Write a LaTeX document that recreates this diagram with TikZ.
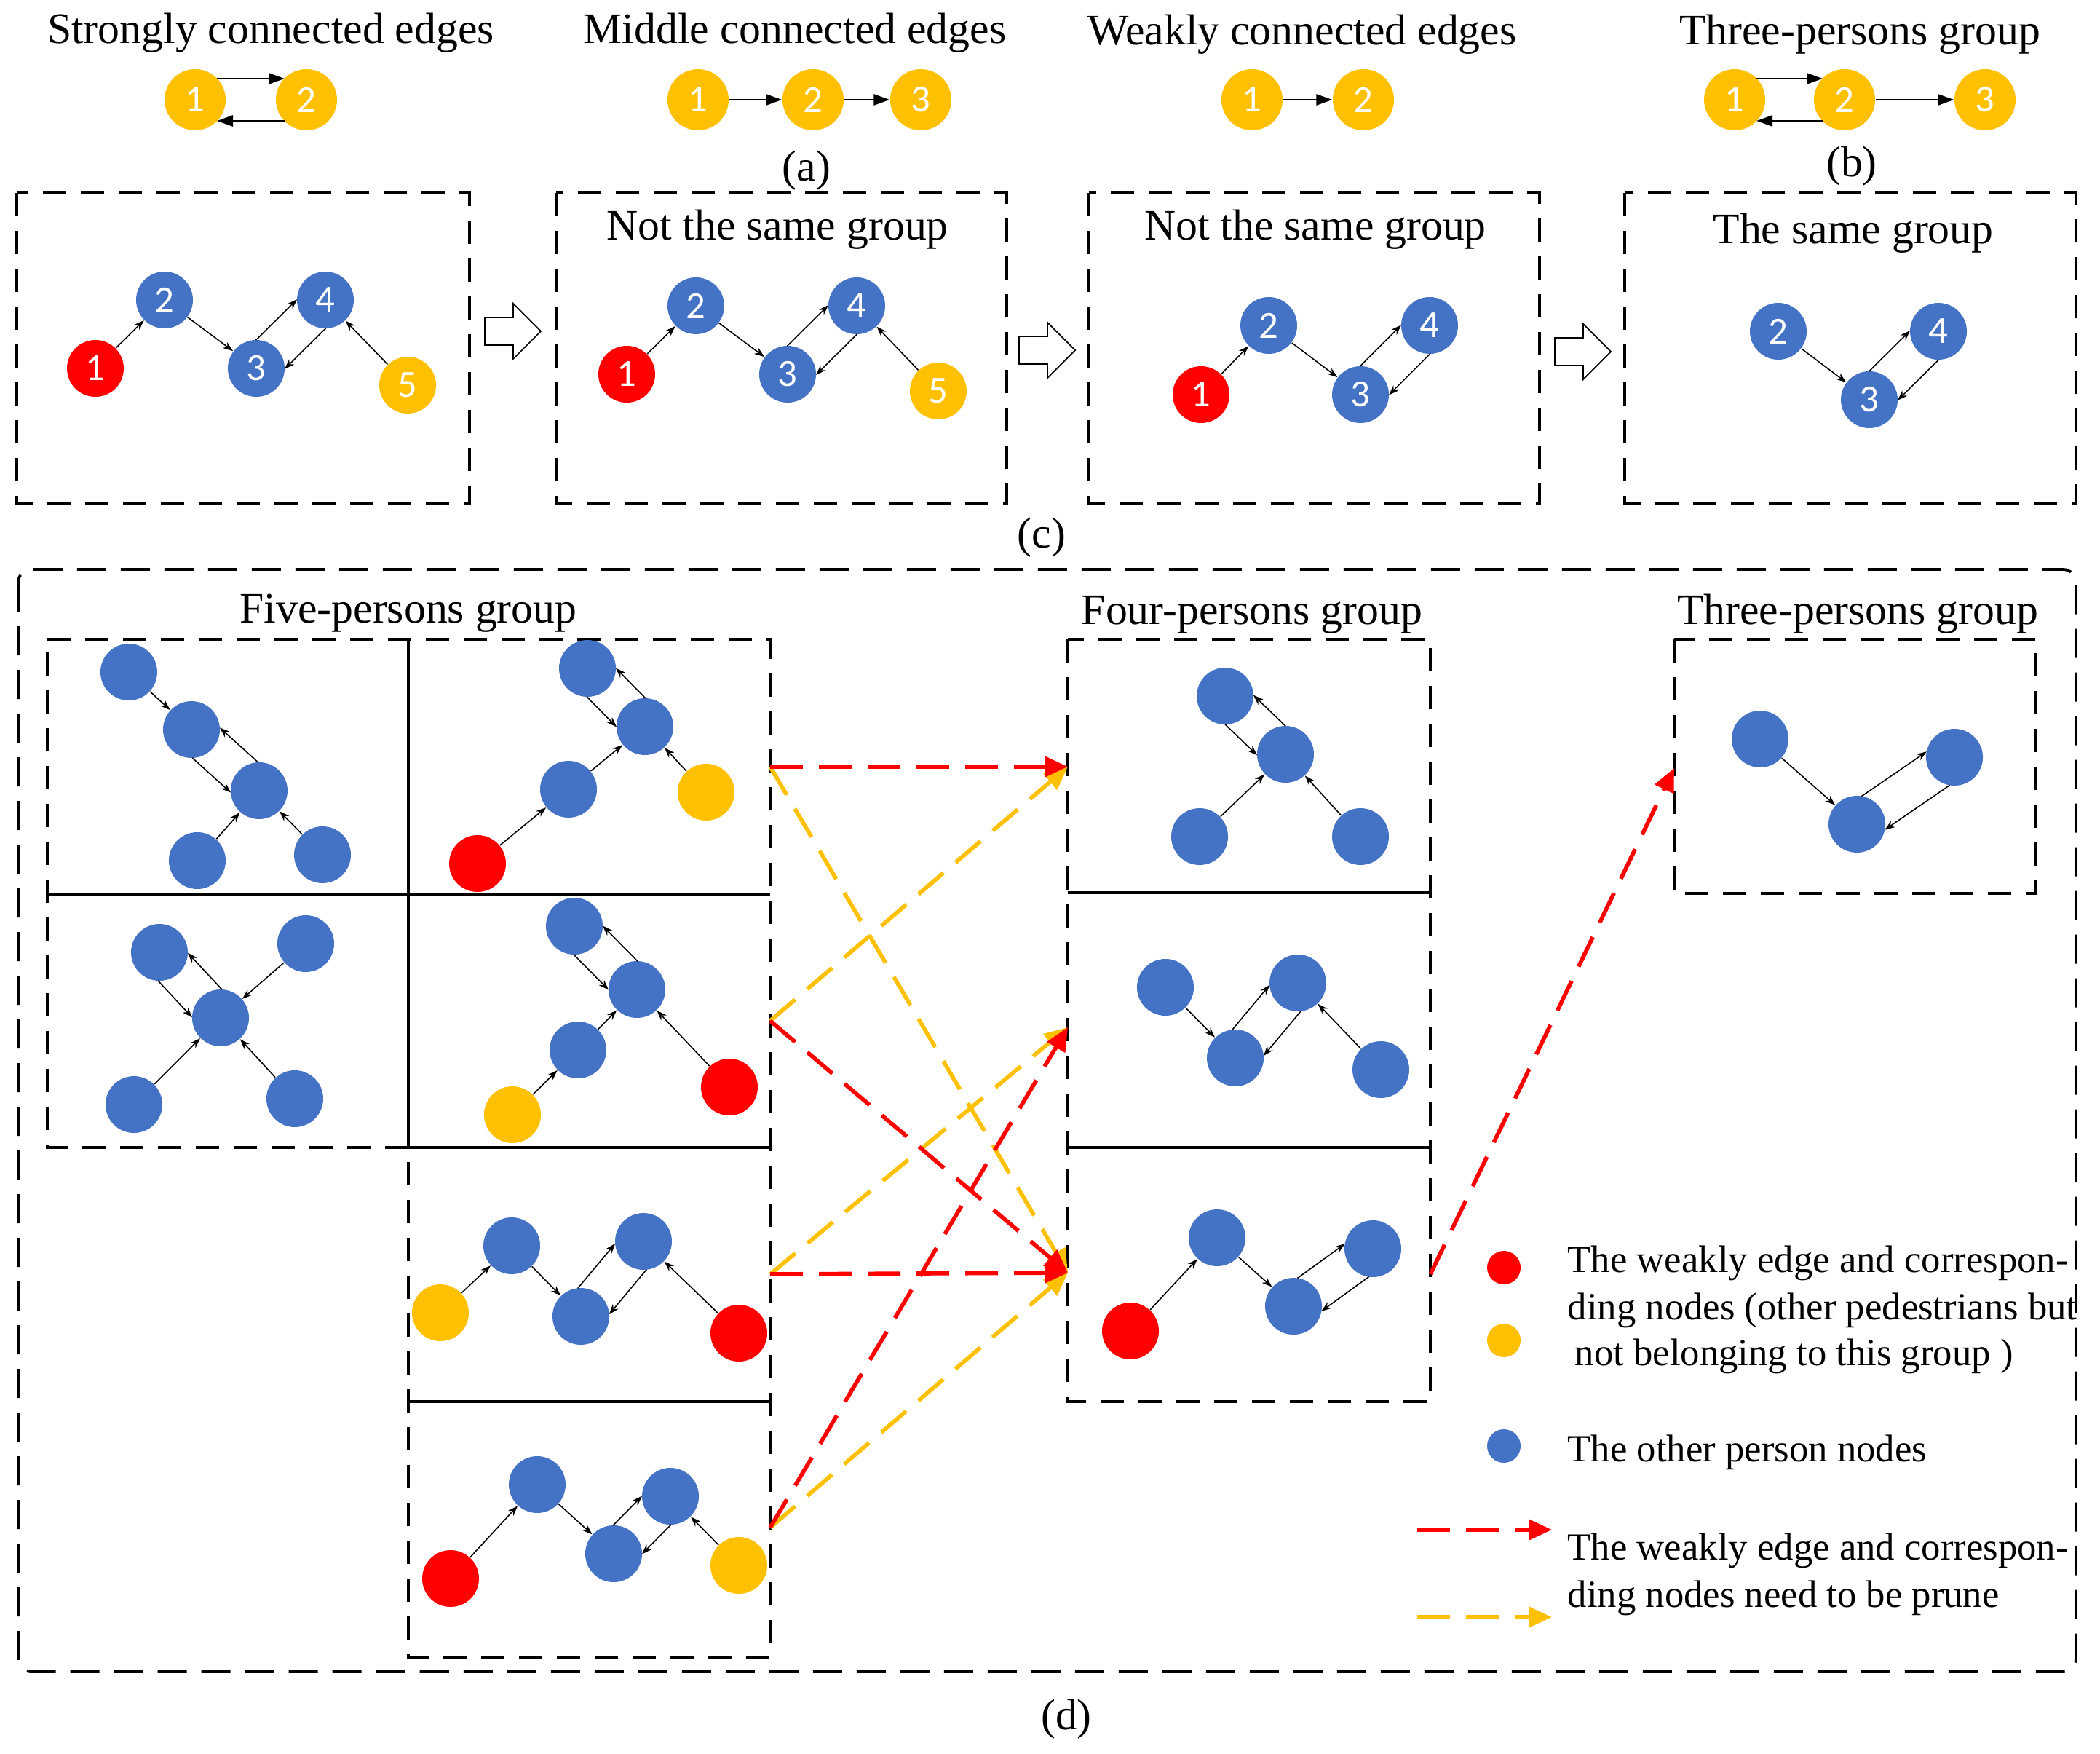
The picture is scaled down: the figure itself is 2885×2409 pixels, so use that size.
\documentclass[tikz,border=0pt]{standalone}
\usepackage{fontspec}
\setmainfont{Liberation Serif}
\newfontfamily\numfont{Carlito}
\usetikzlibrary{calc,arrows.meta}
\definecolor{cred}{HTML}{FF0000}
\definecolor{cyel}{HTML}{FFC000}
\definecolor{cblue}{HTML}{4472C4}
% two opposite parallel edges; L: a->b on its left side, R: on its right side
\newcommand\twoL[5]{%
  \draw[#1,shorten <=#5,shorten >=#5] ($(#2)!#4!90:(#3)$) -- ($(#3)!#4!-90:(#2)$);
  \draw[#1,shorten <=#5,shorten >=#5] ($(#3)!#4!90:(#2)$) -- ($(#2)!#4!-90:(#3)$);}
\newcommand\twoR[5]{%
  \draw[#1,shorten <=#5,shorten >=#5] ($(#2)!#4!-90:(#3)$) -- ($(#3)!#4!90:(#2)$);
  \draw[#1,shorten <=#5,shorten >=#5] ($(#3)!#4!-90:(#2)$) -- ($(#2)!#4!90:(#3)$);}
\begin{document}
\begin{tikzpicture}[x=0.1mm,y=-0.1mm,
  pn/.style={circle,minimum size=7.8mm,inner sep=0pt,text=white,font=\numfont\fontsize{15}{15}\selectfont},
  pnb/.style={pn,minimum size=8.4mm},
  fR/.style={fill=cred}, fY/.style={fill=cyel}, fB/.style={fill=cblue},
  ldot/.style={circle,minimum size=4.6mm,inner sep=0pt},
  ttl/.style={anchor=base,inner sep=0pt,font=\fontsize{17}{20}\selectfont},
  captxt/.style={anchor=center,inner sep=0pt,font=\fontsize{17}{20}\selectfont},
  leg/.style={anchor=base west,inner sep=0pt,font=\fontsize{15}{18}\selectfont},
  ed/.style={draw=black,line width=0.45pt,-{Stealth[length=1.4mm,width=1mm]}},
  edt/.style={draw=black,line width=0.8pt,-{Triangle[length=2.2mm,width=1.5mm]}},
  dbox/.style={draw=black,line width=1.1pt,dash pattern=on 3.2mm off 2mm},
  sbox/.style={draw=black,line width=1.1pt},
  bigbox/.style={draw=black,line width=1.1pt,dash pattern=on 4mm off 2mm,rounded corners=1.8mm},
  redc/.style={draw=cred,line width=1.6pt,dash pattern=on 4.5mm off 2.2mm,-{Triangle[length=3.2mm,width=2.8mm]}},
  yelc/.style={draw=cyel,line width=1.6pt,dash pattern=on 4.5mm off 2.2mm,-{Triangle[length=3.2mm,width=2.8mm]}},
  harr/.style={draw=black,line width=0.5pt,fill=white}]
\fill[white] (0,0) rectangle (2885,2409);
\useasboundingbox (0,0) rectangle (2885,2409);

% ---------------- (a) and (b)
\node[ttl] (tA) at (372,60) {Strongly connected edges};
\node[ttl] (tB) at (1092,60) {Middle connected edges};
\node[ttl] (tC) at (1789,62) {Weakly connected edges};
\node[ttl] (tD) at (2555,62) {Three-persons group};
\node[captxt] (capa) at (1108,234) {(a)};
\node[captxt] (capb) at (2544,228) {(b)};

\node[pnb,fY] (s1) at (268,137) {1};
\node[pnb,fY] (s2) at (421,137) {2};
\twoL{edt}{s1}{s2}{2.9mm}{3mm}

\node[pnb,fY] (m1) at (959,137) {1};
\node[pnb,fY] (m2) at (1117,137) {2};
\node[pnb,fY] (m3) at (1265,137) {3};
\draw[edt] (m1) -- (m2);
\draw[edt] (m2) -- (m3);

\node[pnb,fY] (w1) at (1720,137) {1};
\node[pnb,fY] (w2) at (1873,137) {2};
\draw[edt] (w1) -- (w2);

\node[pnb,fY] (t1) at (2383,137) {1};
\node[pnb,fY] (t2) at (2534,137) {2};
\node[pnb,fY] (t3) at (2727,137) {3};
\twoL{edt}{t1}{t2}{2.9mm}{3mm}
\draw[edt] (t2) -- (t3);

% ---------------- (c)
\draw[dbox] (23,265) rectangle (645,691);
\draw[dbox] (764,265) rectangle (1383,691);
\draw[dbox] (1496,265) rectangle (2115,691);
\draw[dbox] (2232,265) rectangle (2852,691);

\node[ttl] (ns1) at (1068,330) {Not the same group};
\node[ttl] (ns2) at (1807,330) {Not the same group};
\node[ttl] (sg) at (2546,335) {The same group};
\node[captxt] (capc) at (1431,738) {(c)};

\coordinate (h1) at (666,455);
\coordinate (h2) at (1400,481);
\coordinate (h3) at (2136,483);
\foreach \h in {h1,h2,h3}
  \draw[harr] (\h) ++(0,-19) -- ++(39,0) -- ++(0,-19) -- ++(38,38) -- ++(-38,38) -- ++(0,-19) -- ++(-39,0) -- cycle;

\node[pn,fR] (c1a) at (131,506) {1};
\node[pn,fB] (c1b) at (226,412) {2};
\node[pn,fB] (c1c) at (352,506) {3};
\node[pn,fB] (c1d) at (447,412) {4};
\node[pn,fY] (c1e) at (560,529) {5};
\draw[ed] (c1a) -- (c1b);
\draw[ed] (c1b) -- (c1c);
\twoL{ed}{c1c}{c1d}{2.8mm}{2.7mm}
\draw[ed] (c1e) -- (c1d);

\node[pn,fR] (c2a) at (861,514) {1};
\node[pn,fB] (c2b) at (956,420) {2};
\node[pn,fB] (c2c) at (1082,514) {3};
\node[pn,fB] (c2d) at (1177,420) {4};
\node[pn,fY] (c2e) at (1289,537) {5};
\draw[ed] (c2a) -- (c2b);
\draw[ed] (c2b) -- (c2c);
\twoL{ed}{c2c}{c2d}{2.8mm}{2.7mm}
\draw[ed] (c2e) -- (c2d);

\node[pn,fR] (c3a) at (1650,542) {1};
\node[pn,fB] (c3b) at (1743,447) {2};
\node[pn,fB] (c3c) at (1869,542) {3};
\node[pn,fB] (c3d) at (1964,447) {4};
\draw[ed] (c3a) -- (c3b);
\draw[ed] (c3b) -- (c3c);
\twoL{ed}{c3c}{c3d}{2.8mm}{2.7mm}

\node[pn,fB] (c4b) at (2443,455) {2};
\node[pn,fB] (c4c) at (2568,549) {3};
\node[pn,fB] (c4d) at (2663,455) {4};
\draw[ed] (c4b) -- (c4c);
\twoL{ed}{c4c}{c4d}{2.8mm}{2.7mm}

% ---------------- (d)
\draw[bigbox] (25,782) rectangle (2852,2296);
\node[captxt] (capd) at (1465,2361) {(d)};
\node[ttl] (fiveT) at (561,856) {Five-persons group};
\node[ttl] (fourT) at (1720,857) {Four-persons group};
\node[ttl] (threeT) at (2552,857) {Three-persons group};

% five-persons grid
\draw[dbox] (65,878) -- (1058,878) -- (1058,2276) -- (561,2276) -- (561,1576) -- (65,1576) -- cycle;
\draw[sbox] (561,878) -- (561,1576);
\draw[sbox] (65,1228) -- (1058,1228);
\draw[sbox] (561,1576) -- (1058,1576);
\draw[sbox] (561,1925) -- (1058,1925);
% four-persons
\draw[dbox] (1467,878) rectangle (1965,1925);
\draw[sbox] (1467,1226) -- (1965,1226);
\draw[sbox] (1467,1576) -- (1965,1576);
% three-persons
\draw[dbox] (2300,878) rectangle (2797,1227);

% TL
\node[pn,fB] (ta) at (177,923) {};
\node[pn,fB] (tb) at (263,1002) {};
\node[pn,fB] (tc) at (356,1086) {};
\node[pn,fB] (td) at (271,1182) {};
\node[pn,fB] (te) at (443,1174) {};
\draw[ed] (ta) -- (tb);
\twoR{ed}{tb}{tc}{2.8mm}{2.7mm}
\draw[ed] (td) -- (tc);
\draw[ed] (te) -- (tc);
% TR
\node[pn,fB] (ra) at (807,918) {};
\node[pn,fB] (rb) at (886,998) {};
\node[pn,fB] (rcn) at (781,1084) {};
\node[pn,fY] (ry) at (970,1088) {};
\node[pn,fR] (rr) at (656,1186) {};
\twoR{ed}{ra}{rb}{2.8mm}{2.7mm}
\draw[ed] (rcn) -- (rb);
\draw[ed] (ry) -- (rb);
\draw[ed] (rr) -- (rcn);
% ML
\node[pn,fB] (la) at (219,1308) {};
\node[pn,fB] (lb) at (420,1296) {};
\node[pn,fB] (lc) at (303,1398) {};
\node[pn,fB] (ld) at (184,1517) {};
\node[pn,fB] (le) at (405,1509) {};
\twoR{ed}{la}{lc}{2.8mm}{2.7mm}
\draw[ed] (lb) -- (lc);
\draw[ed] (ld) -- (lc);
\draw[ed] (le) -- (lc);
% MR
\node[pn,fB] (ma) at (789,1272) {};
\node[pn,fB] (mb) at (875,1359) {};
\node[pn,fB] (mc) at (794,1442) {};
\node[pn,fY] (my) at (704,1531) {};
\node[pn,fR] (mr) at (1002,1493) {};
\twoR{ed}{ma}{mb}{2.8mm}{2.7mm}
\draw[ed] (mc) -- (mb);
\draw[ed] (my) -- (mc);
\draw[ed] (mr) -- (mb);
% five, third cell
\node[pn,fY] (ny) at (605,1803) {};
\node[pn,fB] (n1) at (703,1711) {};
\node[pn,fB] (n2) at (798,1808) {};
\node[pn,fB] (n3) at (884,1705) {};
\node[pn,fR] (nr) at (1015,1831) {};
\draw[ed] (ny) -- (n1);
\draw[ed] (n1) -- (n2);
\twoL{ed}{n2}{n3}{2.8mm}{2.7mm}
\draw[ed] (nr) -- (n3);
% five, fourth cell
\node[pn,fR] (pr) at (619,2168) {};
\node[pn,fB] (p1) at (738,2039) {};
\node[pn,fB] (p2) at (843,2134) {};
\node[pn,fB] (p3) at (921,2055) {};
\node[pn,fY] (py) at (1015,2150) {};
\draw[ed] (pr) -- (p1);
\draw[ed] (p1) -- (p2);
\twoL{ed}{p2}{p3}{2.8mm}{2.7mm}
\draw[ed] (py) -- (p3);
% four a
\node[pn,fB] (fa) at (1683,956) {};
\node[pn,fB] (fb) at (1766,1036) {};
\node[pn,fB] (fc) at (1648,1149) {};
\node[pn,fB] (fd) at (1869,1149) {};
\twoR{ed}{fa}{fb}{2.8mm}{2.7mm}
\draw[ed] (fc) -- (fb);
\draw[ed] (fd) -- (fb);
% four b
\node[pn,fB] (ga) at (1601,1356) {};
\node[pn,fB] (gb) at (1697,1453) {};
\node[pn,fB] (gc) at (1783,1350) {};
\node[pn,fB] (gd) at (1897,1469) {};
\draw[ed] (ga) -- (gb);
\twoL{ed}{gb}{gc}{2.8mm}{2.7mm}
\draw[ed] (gd) -- (gc);
% four c
\node[pn,fR] (hr) at (1553,1828) {};
\node[pn,fB] (hb1) at (1672,1700) {};
\node[pn,fB] (hb2) at (1777,1794) {};
\node[pn,fB] (hb3) at (1886,1715) {};
\draw[ed] (hr) -- (hb1);
\draw[ed] (hb1) -- (hb2);
\twoL{ed}{hb2}{hb3}{2.8mm}{2.7mm}
% three
\node[pn,fB] (ka) at (2418,1015) {};
\node[pn,fB] (kb) at (2551,1132) {};
\node[pn,fB] (kc) at (2685,1040) {};
\draw[ed] (ka) -- (kb);
\twoL{ed}{kb}{kc}{2.8mm}{2.7mm}

% pruning connectors
\coordinate (o1) at (1058,1053);
\coordinate (o2) at (1058,1402);
\coordinate (o3) at (1058,1750);
\coordinate (o4) at (1058,2098);
\coordinate (i1) at (1467,1053);
\coordinate (i2) at (1467,1411);
\coordinate (i3) at (1467,1748);
\coordinate (o5) at (1965,1750);
\coordinate (i4) at (2300,1055);
\draw[yelc] (o1) -- (i3);
\draw[yelc] (o2) -- (i1);
\draw[yelc] (o3) -- (i2);
\draw[yelc] (o4) -- (i3);
\draw[redc] (o1) -- (i1);
\draw[redc] (o2) -- (i3);
\draw[redc] (o3) -- (i3);
\draw[redc] (o4) -- (i2);
\draw[redc] (o5) -- (i4);

% legend
\node[ldot,fR] (lgr) at (2066,1741) {};
\node[ldot,fY] (lgy) at (2066,1841) {};
\node[ldot,fB] (lgb) at (2066,1986) {};
\node[leg] (lt1) at (2153,1747) {The weakly edge and correspon-};
\node[leg] (lt2) at (2153,1812) {ding nodes (other pedestrians but};
\node[leg] (lt3) at (2163,1875) {not belonging to this group )};
\node[leg] (lt4) at (2153,2007) {The other person nodes};
\node[leg] (lt5) at (2153,2142) {The weakly edge and correspon-};
\node[leg] (lt6) at (2153,2207) {ding nodes need to be prune};
\coordinate (lra) at (1947,2101);
\coordinate (lrb) at (2132,2101);
\coordinate (lya) at (1947,2221);
\coordinate (lyb) at (2132,2221);
\draw[redc] (lra) -- (lrb);
\draw[yelc] (lya) -- (lyb);
\end{tikzpicture}
\end{document}
